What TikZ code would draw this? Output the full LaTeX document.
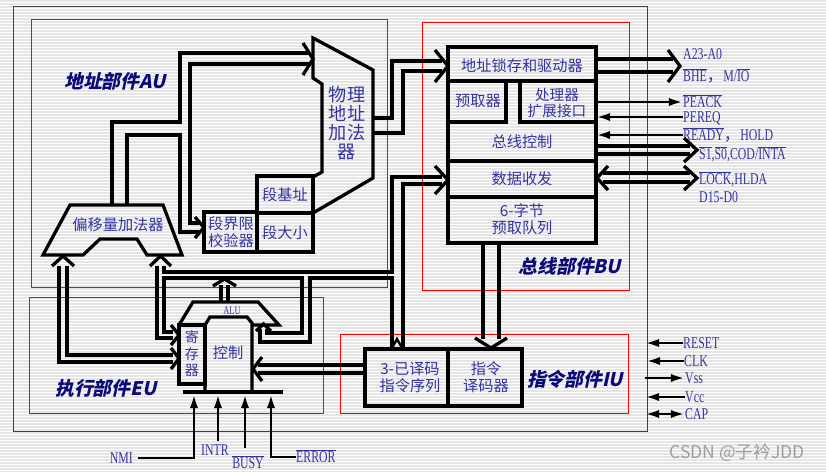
\documentclass[tikz,border=0pt]{standalone}
\usepackage{fontspec}
\setmainfont{Liberation Serif}
\newfontfamily\cjk{Noto Sans CJK SC}
\newfontfamily\cjklab[FakeSlant=0.22]{Noto Sans CJK SC}
\newfontfamily\sig[FakeStretch=0.72]{Liberation Serif}
\usetikzlibrary{arrows.meta}
\definecolor{txtblue}{RGB}{51,51,160}
\definecolor{labnavy}{RGB}{10,10,120}
\newcommand{\ol}[1]{$\overline{\mbox{#1}}$}

\begin{document}
\begin{tikzpicture}[x=0.03cm, y=-0.03cm,
        bus/.style={line width=2.8pt},
        unitbox/.style={draw=red, line width=0.8pt},
        box/.style={draw, line width=2.8pt},
        boxtext/.style={font=\cjk\fontsize{13}{15}\selectfont, text=txtblue, align=center, inner sep=0pt},
        unitlab/.style={font=\cjklab\bfseries\fontsize{16}{18}\selectfont, text=labnavy, inner sep=0pt},
        siglab/.style={font=\sig\fontsize{14}{16}\selectfont, text=txtblue, anchor=west, inner sep=0pt,
            text height=9.3pt, text depth=0pt},
        sigarr/.style={line width=2.3pt, -{Latex[length=12pt,width=7pt]}},
        sigboth/.style={line width=2.3pt, {Latex[length=12pt,width=7pt]}-{Latex[length=12pt,width=7pt]}}]
        \useasboundingbox (0,0) rectangle (826,472);
        % background
        \fill[white] (0,0) rectangle (826,472);
        \foreach \y in {1,4,...,472}
            \draw[black!10, line width=0.9pt] (0,\y) -- (826,\y);
        \draw[black!75, line width=0.7pt] (13,6) rectangle (647,431);
        % units
        \draw[unitbox] (31,19) rectangle (387,287);
        \draw[unitbox] (422,22) rectangle (629,290);
        \draw[unitbox] (29,297) rectangle (323,413);
        \draw[unitbox] (340,334) rectangle (628,413);
        \node[unitlab] (au) at (115,81) {地址部件AU};
        \node[unitlab] (bu) at (570,266) {总线部件BU};
        \node[unitlab] (eu) at (106,388) {执行部件EU};
        \node[unitlab] (iu) at (575,379) {指令部件IU};

        % bus unit
        \draw[box] (448,47) rectangle (596,243);
        \draw[box] (448,81) -- (596,81);
        \draw[box] (506,81) -- (506,122) -- (448,122);
        \draw[box] (520,81) -- (520,122) -- (596,122);
        \draw[box] (448,161) -- (596,161);
        \draw[box] (448,197) -- (596,197);
        \node[boxtext] (alatch) at (522,66) {地址锁存和驱动器};
        \node[boxtext] (pref) at (478,101) {预取器};
        \node[boxtext, font=\cjk\fontsize{12.5}{13}\selectfont] (pext) at (557,103) {处理器\\扩展接口};
        \node[boxtext] (bctl) at (522,142) {总线控制};
        \node[boxtext] (dtr) at (522,179) {数据收发};
        \node[boxtext] (queue) at (522,219) {6-字节\\预取队列};

        % address unit
        \draw[box] (313,177) -- (322,172) -- (322,84) -- (313,78) -- (313,38) -- (373,70) -- (373,178) -- (313,213);
        \draw[box] (257,176) rectangle (313,252);
        \draw[box] (257,213) -- (313,213);
        \draw[box] (204,212) rectangle (257,252);
        \draw[box] (70,205) -- (163,205) -- (182,255) -- (147,255) -- (137,239) -- (100,239) -- (83,255) -- (43,255) -- cycle;
        \node[boxtext, font=\cjk\fontsize{15.5}{16}\selectfont] (phys) at (347,123) {物理\\地址\\加法\\器};
        \node[boxtext] (sbase) at (285,195) {段基址};
        \node[boxtext] (ssize) at (285,233) {段大小};
        \node[boxtext, font=\cjk\fontsize{13}{14}\selectfont] (slim) at (231,232) {段界限\\校验器};
        \node[boxtext] (offs) at (118,225) {偏移量加法器};

        % AU buses
        \draw[bus] (112,205) -- (112,122) -- (180,122) -- (180,53) -- (309,53);
        \draw[bus] (127,205) -- (127,135) -- (180,135) -- (180,232) -- (199,232);
        \draw[bus] (199,223) -- (190,223) -- (190,64) -- (310,64);
        \draw[bus] (303,43) -- (313,59) -- (303,75);
        \draw[bus] (195,217) -- (204,227.5) -- (195,238);
        \draw[bus] (373,118) -- (392,118) -- (392,61) -- (442,61);
        \draw[bus] (373,133) -- (403,133) -- (403,71) -- (442,71);
        \draw[bus] (435,50) -- (448,66) -- (435,82);

        % data bus
        \draw[bus] (442,177) -- (392,177) -- (392,272) -- (164,272) -- (164,266);
        \draw[bus] (442,184) -- (403,184) -- (403,349);
        \draw[bus] (435,166) -- (448,180) -- (435,194);
        \draw[bus] (392,349) -- (392,278) -- (310,278) -- (310,342) -- (260,342) -- (260,329);
        \draw[bus] (173,332) -- (164,332) -- (164,278) -- (302,278) -- (302,333) -- (267,333) -- (267,329);
        \draw[bus] (256,331) -- (263.5,324) -- (271,331);
        \draw[line width=2pt] (392,348) -- (397,339) -- (402,348);
        \draw[bus] (157,266) -- (157,338) -- (173,338);
        \draw[bus] (59,266) -- (59,362) -- (173,362);
        \draw[bus] (67,266) -- (67,355) -- (173,355);
        \draw[bus] (150,266) -- (160.5,256) -- (171,266);
        \draw[bus] (52,266) -- (63,256) -- (74,266);
        \draw[bus] (171,325) -- (179,335) -- (171,345);
        \draw[bus] (171,348) -- (179,358.5) -- (171,369);

        % execution unit
        \draw[box] (252,325) -- (279,325) -- (258,302) -- (193,302) -- (179,325);
        \draw[box] (179,325) rectangle (205,384);
        \draw[box] (205,392) -- (205,325) -- (210,317) -- (247,317) -- (252,323) -- (252,392);
        \draw[box] (183,392) -- (283,392);
        \node[boxtext, font=\cjk\fontsize{12}{14}\selectfont] (reg) at (192,354) {寄\\存\\器};
        \node[boxtext] (ctl) at (228,353) {控制};
        \node[siglab, anchor=center, font=\sig\fontsize{10}{12}\selectfont, text height=6.6pt] (alu) at (232,311) {ALU};
        \draw[bus] (221,302) -- (221,285);
        \draw[bus] (228,302) -- (228,285);
        \draw[bus] (213,286) -- (224.5,279) -- (236,286);
        \draw[bus] (365,365) -- (258,365);
        \draw[bus] (365,373) -- (258,373);
        \draw[bus] (262,357) -- (253,369) -- (262,381);

        % instruction unit
        \draw[box] (365,349) rectangle (522,406);
        \draw[box] (448,349) -- (448,406);
        \node[boxtext, font=\cjk\fontsize{13}{14.5}\selectfont] (dq) at (410,377) {3-已译码\\指令序列};
        \node[boxtext, font=\cjk\fontsize{13}{14.5}\selectfont] (idec) at (486,377) {指令\\译码器};
        \draw[bus] (483,243) -- (483,339);
        \draw[bus] (499,243) -- (499,339);
        \draw[bus] (475,338) -- (491,348) -- (507,338);

        % BU pins
        \draw[bus] (596,59) -- (673,59);
        \draw[bus] (596,72) -- (673,72);
        \draw[bus] (668,50) -- (680,66) -- (668,82);
        \node[siglab] (addr) at (683,54) {A23-A0};
        \node[siglab] (bhe) at (683,76) {\ol{BHE}{\cjk ，}M/\ol{IO}};
        \node[siglab] (peack) at (683,102) {\ol{PEACK}};
        \draw[sigarr] (596,102) -- (peack.west);
        \node[siglab] (pereq) at (683,117) {PEREQ};
        \draw[sigarr] (pereq.west) -- (596,117);
        \node[siglab] (ready) at (683,135) {\ol{READY}{\cjk ，}HOLD};
        \draw[sigarr] (ready.west) -- (596,135);
        \draw[bus] (596,146) -- (690,146);
        \draw[bus] (596,154) -- (690,154);
        \draw[bus] (684,138) -- (697,150) -- (684,162);
        \node[siglab] (stat) at (699,154) {\ol{S1},\ol{S0},COD/\ol{INTA}};
        \draw[bus] (603,173) -- (690,173);
        \draw[bus] (603,182) -- (690,182);
        \draw[bus] (684,166) -- (697,178) -- (684,190);
        \draw[bus] (608,166) -- (597,178) -- (608,190);
        \node[siglab] (lock) at (699,179) {\ol{LOCK},HLDA};
        \node[siglab] (data) at (699,197) {D15-D0};

        % chip pins
        \node[siglab] (reset) at (683,343) {RESET};
        \draw[sigarr] (reset.west) -- (645,343);
        \node[siglab] (clk) at (684,361) {CLK};
        \draw[sigarr] (clk.west) -- (646,361);
        \node[siglab] (vss) at (685,378) {Vss};
        \draw[sigarr] (645,378) -- (vss.west);
        \node[siglab] (vcc) at (685,397) {Vcc};
        \draw[sigarr] (vcc.west) -- (645,397);
        \node[siglab] (cap) at (685,414) {CAP};
        \draw[sigboth] (645,414) -- (cap.west);

        % EU inputs
        \node[siglab, anchor=east] (nmi) at (133,458) {NMI};
        \draw[sigarr, shorten <=4pt] (nmi.east) -- (194,458) -- (194,394);
        \node[siglab, anchor=center] (intr) at (215,450) {INTR};
        \draw[sigarr] (218,441) -- (218,394);
        \node[siglab, anchor=center] (busy) at (248,463) {\ol{BUSY}};
        \draw[sigarr] (245,448) -- (245,394);
        \node[siglab] (err) at (296,457) {\ol{ERROR}};
        \draw[sigarr] (err.west) -- (271,457) -- (271,394);

        \node[font=\cjk\fontsize{15}{17}\selectfont, text=black!38, inner sep=0pt] (mark) at (737,453) {CSDN @子衿JDD};
    \end{tikzpicture}
\end{document}
